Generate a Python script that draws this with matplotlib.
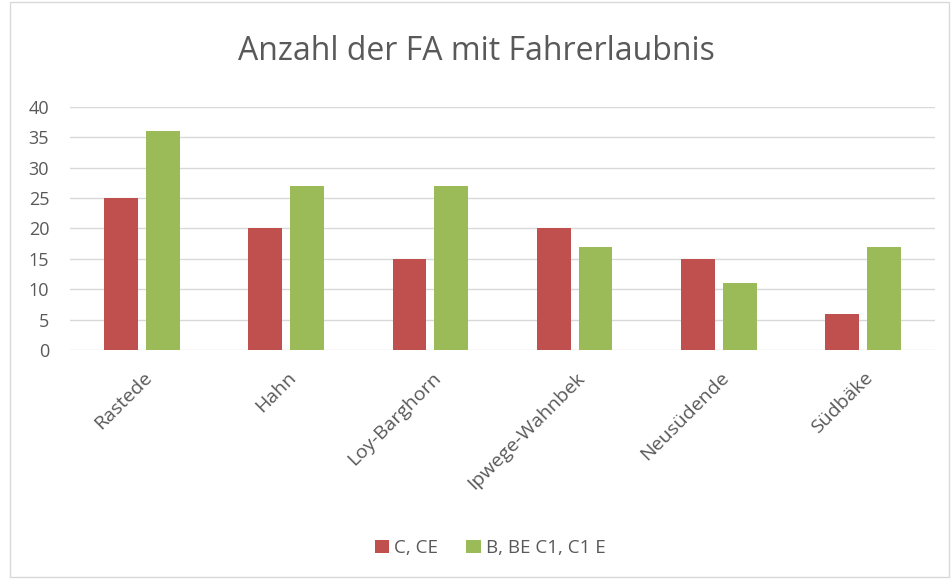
import numpy as np
from matplotlib import pyplot as plt
from matplotlib.patches import Rectangle
from matplotlib.transforms import ScaledTranslation

orte = ['Rastede', 'Hahn', 'Loy-Barghorn', 'Ipwege-Wahnbek', 'Neusüdende', 'Südbäke']
c_ce = [25, 20, 15, 20, 15, 6]
b_be = [36, 27, 27, 17, 11, 17]

plt.rcParams['font.family'] = ['Open Sans', 'DejaVu Sans']
grau = '#595959'

fig = plt.figure(figsize=(9.52, 5.79), dpi=100)
ax = fig.add_axes([70/952, 1-350/579, 865/952, 243/579])
fig.patches.append(Rectangle((10/952, 0.003), 1-10/952-0.003, 0.994, transform=fig.transFigure,
                             fill=False, edgecolor='#d9d9d9', linewidth=1))

x = np.arange(len(orte))
w = 0.235
ax.bar(x - 0.145, c_ce, w, color='#C0504D', label='C, CE', zorder=3)
ax.bar(x + 0.145, b_be, w, color='#9BBB59', label='B, BE C1, C1 E', zorder=3)

ax.set_xlim(-0.5, len(orte) - 0.5)
ax.set_ylim(0, 40)
ax.set_yticks(range(0, 41, 5))
ax.yaxis.grid(True, color='#d9d9d9', linewidth=1, zorder=0)
for s in ax.spines.values():
    s.set_visible(False)
ax.tick_params(length=0, colors=grau, labelsize=13)
ax.tick_params(axis='y', pad=15)
ax.set_xticks(x)
ax.set_xticklabels(orte, rotation=45, ha='right', rotation_mode='anchor', fontsize=14)
verschub = ScaledTranslation(1/100, -14/100, fig.dpi_scale_trans)
for lab in ax.get_xticklabels():
    lab.set_transform(lab.get_transform() + verschub)

fig.text(0.5, 1-52/579, 'Anzahl der FA mit Fahrerlaubnis', ha='center', va='center',
         fontsize=23, color=grau)
fig.legend(loc='center', bbox_to_anchor=(0.515, 1-548/579), ncol=2, frameon=False,
           fontsize=13.5, labelcolor=grau, handlelength=0.75, handleheight=0.75,
           handletextpad=0.3, columnspacing=1.5)

plt.savefig('out.png', dpi=100)
